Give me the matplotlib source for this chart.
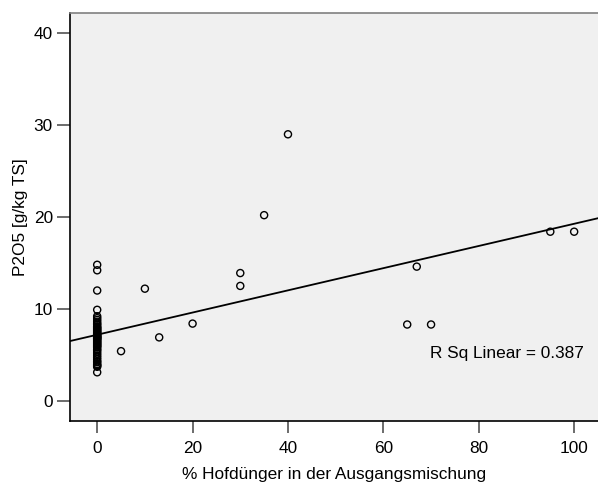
import numpy as np
import matplotlib
matplotlib.use('Agg')
import matplotlib.pyplot as plt

plt.rcParams['font.family'] = ['Liberation Sans', 'DejaVu Sans']

#================================================================
# Daten: P2O5-Gehalt gegen Anteil Hofdünger
#================================================================
# Proben ohne Hofdünger (0 %)
p2o5_ohne = [14.8, 14.2, 12.0, 9.9, 3.1,
             9.2, 9.0, 8.8, 8.6, 8.4, 8.3, 8.1, 8.0, 7.9, 7.8,
             7.7, 7.6, 7.5, 7.4, 7.3, 7.2, 7.1, 7.0, 7.0, 6.9,
             6.8, 6.8, 6.7, 6.6, 6.5, 6.4, 6.3, 6.2, 6.1, 6.0,
             5.9, 5.8, 5.6, 5.5, 5.3, 5.1, 4.9, 4.7, 4.5, 4.3,
             4.2, 4.0, 3.9, 3.8, 3.7]

# Proben mit Hofdünger
anteil_mit = [5, 10, 13, 20, 30, 30, 35, 40, 65, 67, 70, 95, 100]
p2o5_mit = [5.4, 12.2, 6.9, 8.4, 12.5, 13.9, 20.2, 29.0, 8.3, 14.6, 8.3, 18.4, 18.4]

r_sq_text = 'R Sq Linear = 0.387'

x_ticks = [0, 20, 40, 60, 80, 100]
y_ticks = [0, 10, 20, 30, 40]

x = np.array([0] * len(p2o5_ohne) + anteil_mit, dtype=float)
y = np.array(p2o5_ohne + p2o5_mit, dtype=float)

# Lineare Regression
b, a = np.polyfit(x, y, 1)

#================================================================
# Diagramm
#================================================================
fig = plt.figure(figsize=(5.98, 4.84), dpi=100)
ax = fig.add_axes([70 / 598, 63 / 484, 528 / 598, 408 / 484])
ax.set_facecolor('#F0F0F0')

xmin, xmax = -5.7, 105.0
ax.set_xlim(xmin, xmax)
ax.set_ylim(-2.2, 42.2)

xs = np.array([xmin, xmax])
ax.plot(xs, a + b * xs, color='black', lw=1.3, zorder=2)

ax.scatter(x, y, s=26, facecolors='none', edgecolors='black',
           linewidths=1.0, zorder=3)

ax.text(69.7, 5.1, r_sq_text, fontsize=12.4, va='center', ha='left')

ax.set_xticks(x_ticks)
ax.set_yticks(y_ticks)
ax.tick_params(axis='both', labelsize=12.4, color='#606060', width=1.3)
ax.tick_params(axis='x', length=8.6, pad=6)
ax.tick_params(axis='y', length=9.4, pad=3)

for s in ['left', 'bottom']:
    ax.spines[s].set_color('black')
    ax.spines[s].set_linewidth(1.2)
ax.spines['top'].set_color('#808080')
ax.spines['top'].set_linewidth(1.2)
ax.spines['right'].set_visible(False)

ax.set_xlabel('% Hofdünger in der Ausgangsmischung', fontsize=12.4, labelpad=8)
ax.set_ylabel('P2O5 [g/kg TS]', fontsize=12.4, labelpad=4)

fig.savefig('out.png', dpi=100)
